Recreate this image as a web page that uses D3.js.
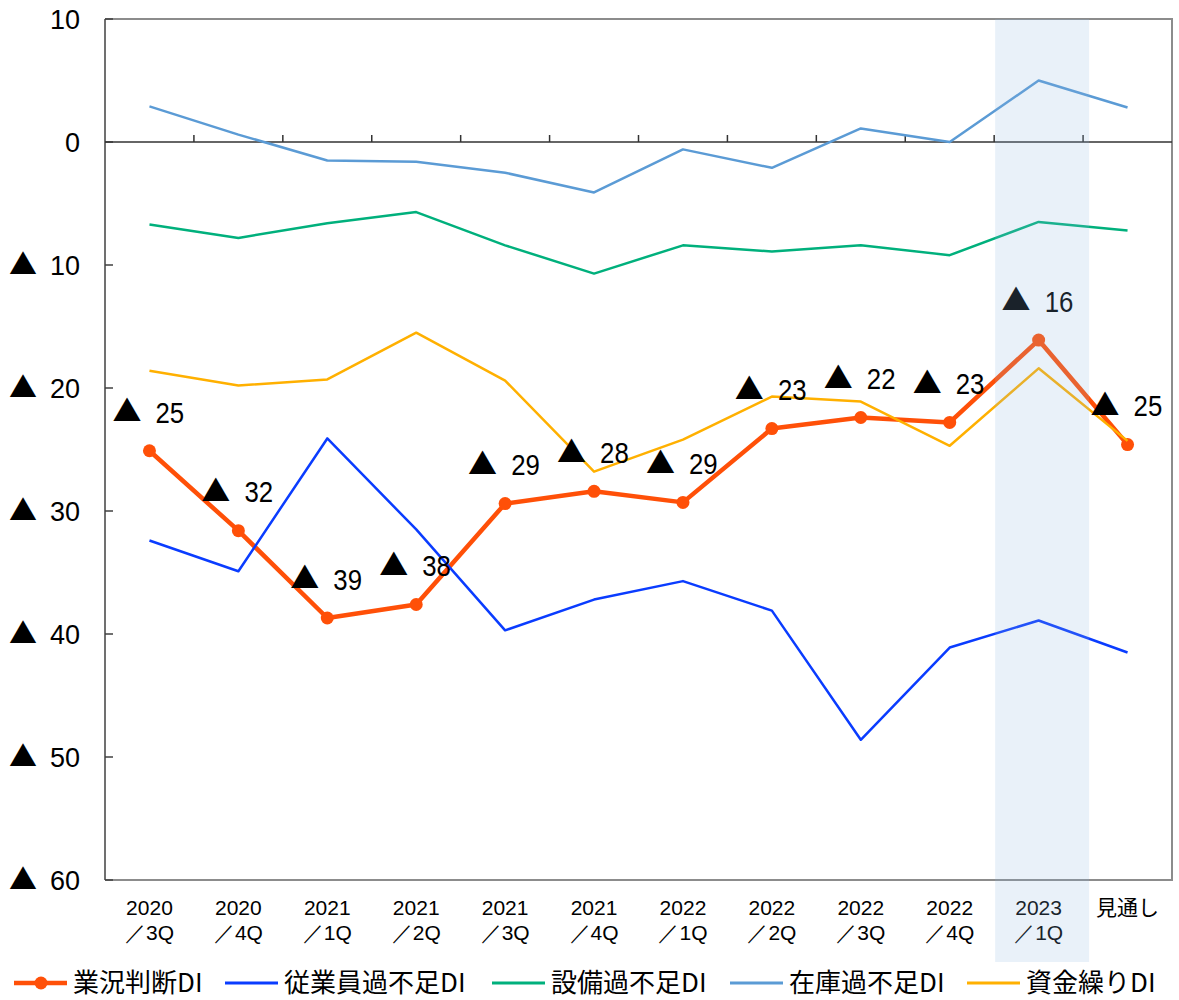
<!DOCTYPE html>
<html>
<head>
<meta charset="utf-8">
<script src="https://cdn.jsdelivr.net/npm/d3@7"></script>
<style>
  body { margin: 0; background: #fff; }
  svg { display: block; }
</style>
</head>
<body>
<script>
// quarters on the x axis (two lines each)
var categories = ["2020\n／3Q", "2020\n／4Q", "2021\n／1Q", "2021\n／2Q", "2021\n／3Q", "2021\n／4Q",
                  "2022\n／1Q", "2022\n／2Q", "2022\n／3Q", "2022\n／4Q", "2023\n／1Q", "見通し"];

// DI values (negative = ▲)
var gyokyo  = [-25.1, -31.6, -38.7, -37.6, -29.4, -28.4, -29.3, -23.3, -22.4, -22.8, -16.1, -24.6];
var jugyoin = [-32.4, -34.9, -24.1, -31.5, -39.7, -37.2, -35.7, -38.1, -48.6, -41.1, -38.9, -41.5];
var setsubi = [-6.7, -7.8, -6.6, -5.7, -8.4, -10.7, -8.4, -8.9, -8.4, -9.2, -6.5, -7.2];
var zaiko   = [2.9, 0.6, -1.5, -1.6, -2.5, -4.1, -0.6, -2.1, 1.1, 0.0, 5.0, 2.8];
var shikin  = [-18.6, -19.8, -19.3, -15.5, -19.4, -26.8, -24.2, -20.7, -21.1, -24.7, -18.4, -24.3];

var seriesNames = ["業況判断DI", "従業員過不足DI", "設備過不足DI", "在庫過不足DI", "資金繰りDI"];
var yTicks = [10, 0, -10, -20, -30, -40, -50, -60];
var highlightCat = "2023\n／1Q";

var series = [
  {name: seriesNames[0], values: gyokyo,  color: "#ff5008", width: 4.5, marker: true},
  {name: seriesNames[1], values: jugyoin, color: "#0a3cff", width: 2.5},
  {name: seriesNames[2], values: setsubi, color: "#00b07c", width: 2.5},
  {name: seriesNames[3], values: zaiko,   color: "#5b9bd5", width: 2.5},
  {name: seriesNames[4], values: shikin,  color: "#ffb000", width: 2.5}
];

var W = 1179, H = 1000;
var margin = {top: 19, right: 7, bottom: 120, left: 105};
var width = W - margin.left - margin.right,
    height = H - margin.top - margin.bottom;

var jpFont = "'Noto Sans CJK JP', sans-serif";
var numFont = "'Liberation Sans', Arial, sans-serif";

var svg = d3.select("body").append("svg")
    .attr("width", W)
    .attr("height", H);

var g = svg.append("g")
    .attr("transform", "translate(" + margin.left + "," + margin.top + ")");

var x = d3.scaleBand().domain(categories).range([0, width]);
var y = d3.scaleLinear().domain([-60, 10]).range([height, 0]);
var cx = function(i) { return x(categories[i]) + x.bandwidth() / 2; };

// plot border (top, right, bottom in gray)
g.append("path")
  .attr("d", "M0,0H" + width + "V" + height + "H0")
  .attr("fill", "none")
  .attr("stroke", "#8c8c8c")
  .attr("stroke-width", 2);

// left axis
g.append("line")
  .attr("x1", 0).attr("x2", 0).attr("y1", 0).attr("y2", height)
  .attr("stroke", "#404040").attr("stroke-width", 1.5);

g.selectAll(".ytick").data(yTicks).enter().append("line")
  .attr("class", "ytick")
  .attr("x1", 0).attr("x2", 8)
  .attr("y1", function(d) { return y(d); })
  .attr("y2", function(d) { return y(d); })
  .attr("stroke", "#404040").attr("stroke-width", 1.5);

// y labels: number right-aligned, ▲ at the far left for negatives
g.selectAll(".ylab").data(yTicks).enter().append("text")
  .attr("class", "ylab")
  .attr("x", -25)
  .attr("y", function(d) { return y(d); })
  .attr("dy", "0.36em")
  .attr("text-anchor", "end")
  .attr("font-family", numFont)
  .attr("font-size", 27)
  .attr("fill", "#000")
  .text(function(d) { return Math.abs(d); });
g.selectAll(".ytri").data(yTicks.filter(function(d) { return d < 0; })).enter().append("text")
  .attr("class", "ytri")
  .attr("x", -96)
  .attr("y", function(d) { return y(d); })
  .attr("dy", "0.36em")
  .attr("font-family", jpFont)
  .attr("font-size", 28)
  .attr("fill", "#000")
  .text("▲");

// zero line with small ticks between quarters
g.append("line")
  .attr("x1", 0).attr("x2", width).attr("y1", y(0)).attr("y2", y(0))
  .attr("stroke", "#333").attr("stroke-width", 1.5);
g.selectAll(".ztick").data(categories.slice(1)).enter().append("line")
  .attr("class", "ztick")
  .attr("x1", function(d) { return x(d); })
  .attr("x2", function(d) { return x(d); })
  .attr("y1", y(0)).attr("y2", y(0) - 7)
  .attr("stroke", "#333").attr("stroke-width", 1.5);

// x labels
var xlab = g.selectAll(".xlab").data(categories).enter().append("text")
  .attr("class", "xlab")
  .attr("text-anchor", "middle")
  .attr("font-family", numFont)
  .attr("font-size", 21)
  .attr("fill", "#000")
  .attr("transform", function(d) { return "translate(" + (x(d) + x.bandwidth() / 2) + "," + (height + 35) + ")"; });
xlab.selectAll("tspan").data(function(d) { return d.split("\n"); }).enter().append("tspan")
  .attr("x", 0)
  .attr("dy", function(d, i) { return i === 0 ? 0 : 25; })
  .attr("font-family", function(d) { return /[^\x00-\x7f／]/.test(d) ? jpFont : numFont; })
  .text(function(d) { return d; });

// lines
var line = d3.line()
  .x(function(d, i) { return cx(i); })
  .y(function(d) { return y(d); });

series.forEach(function(s) {
  g.append("path")
    .datum(s.values)
    .attr("fill", "none")
    .attr("stroke", s.color)
    .attr("stroke-width", s.width)
    .attr("stroke-linejoin", "round")
    .attr("d", line);
  if (s.marker) {
    g.selectAll(".dot").data(s.values).enter().append("circle")
      .attr("class", "dot")
      .attr("cx", function(d, i) { return cx(i); })
      .attr("cy", function(d) { return y(d); })
      .attr("r", 6.5)
      .attr("fill", s.color);
  }
});

// data labels for 業況判断DI: ▲ left of the point, condensed number right of it
var dl = g.selectAll(".dlab").data(gyokyo).enter().append("g")
  .attr("class", "dlab")
  .attr("transform", function(d, i) { return "translate(" + cx(i) + "," + (y(d) - 39) + ")"; });
dl.append("text")
  .attr("x", -8)
  .attr("dy", "0.36em")
  .attr("text-anchor", "end")
  .attr("font-family", jpFont)
  .attr("font-size", 29)
  .attr("fill", "#000")
  .text(function(d) { return d < 0 ? "▲" : ""; });
dl.append("text")
  .attr("transform", "translate(6,0) scale(0.86,1)")
  .attr("dy", "0.36em")
  .attr("font-family", numFont)
  .attr("font-size", 30)
  .attr("fill", "#000")
  .text(function(d) { return Math.round(Math.abs(d)); });

// highlighted quarter (drawn on top, translucent)
g.append("rect")
  .attr("x", x(highlightCat) + 1)
  .attr("y", 0)
  .attr("width", x.bandwidth() + 5)
  .attr("height", H - 38 - margin.top)
  .attr("fill", "rgb(140,180,222)")
  .attr("fill-opacity", 0.19);

// legend
var legendX = [14, 225, 492, 730, 967];
var legend = svg.selectAll(".leg").data(series).enter().append("g")
  .attr("class", "leg")
  .attr("transform", function(d, i) { return "translate(" + legendX[i] + ",983)"; });
legend.append("line")
  .attr("x1", 0).attr("x2", 53)
  .attr("stroke", function(d) { return d.color; })
  .attr("stroke-width", function(d) { return d.marker ? 4.5 : 3; });
legend.filter(function(d) { return d.marker; }).append("circle")
  .attr("cx", 27).attr("r", 6.5)
  .attr("fill", function(d) { return d.color; });
legend.append("text")
  .attr("x", 59)
  .attr("dy", "0.36em")
  .attr("font-family", jpFont)
  .attr("font-size", 26)
  .attr("fill", "#000")
  .text(function(d) { return d.name; });
</script>
</body>
</html>
